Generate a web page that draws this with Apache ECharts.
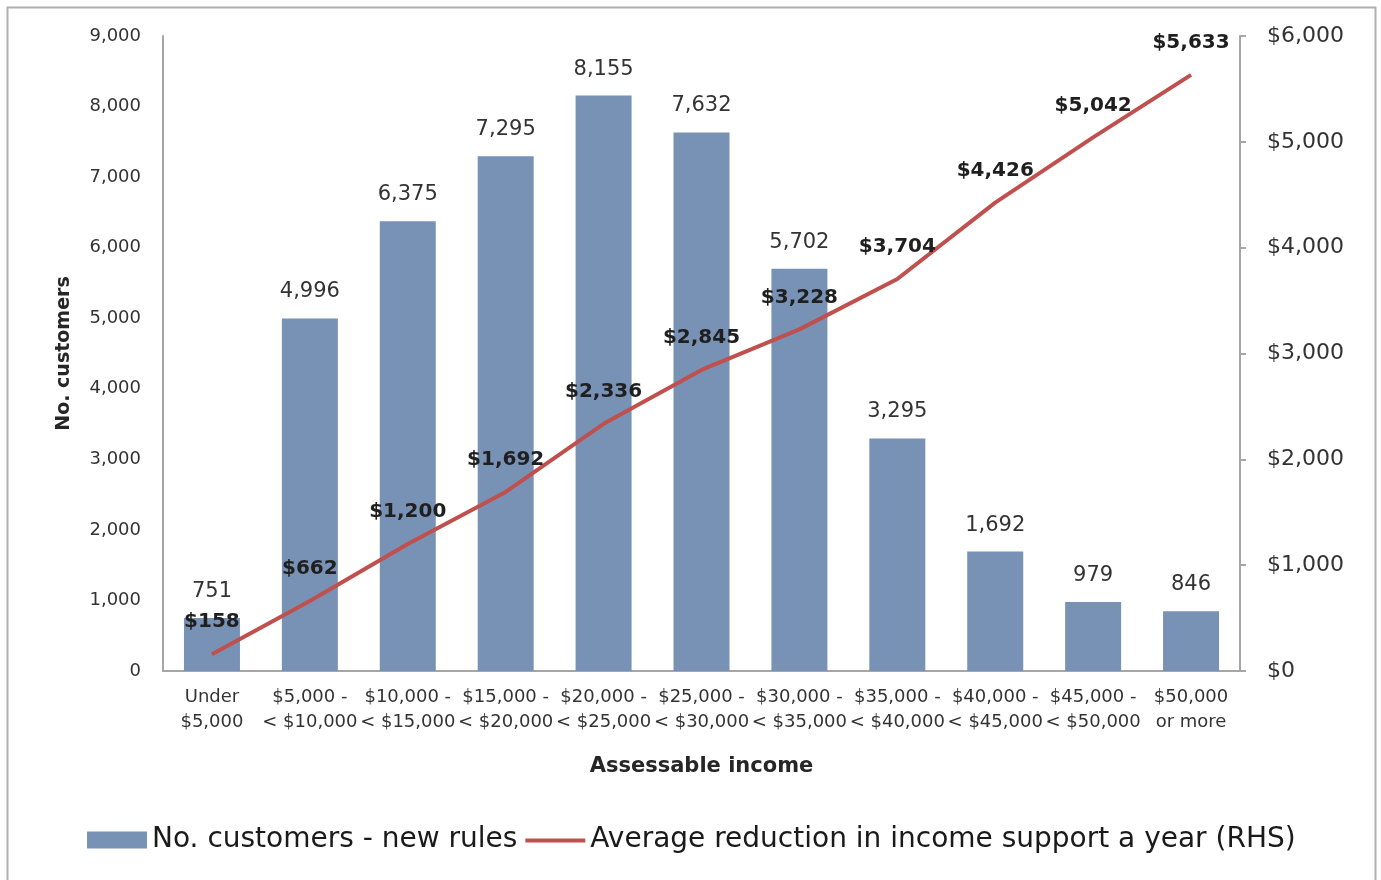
<!DOCTYPE html>
<html>
<head>
<meta charset="utf-8">
<script src="https://cdn.jsdelivr.net/npm/echarts@6/dist/echarts.min.js"></script>
<style>
  html, body { margin: 0; padding: 0; background: #fff; }
  #chart { width: 1381px; height: 880px; }
</style>
</head>
<body>
<div id="chart"></div>
<script>
// Income bands
const categories = [
  'Under\n$5,000',
  '$5,000 -\n< $10,000',
  '$10,000 -\n< $15,000',
  '$15,000 -\n< $20,000',
  '$20,000 -\n< $25,000',
  '$25,000 -\n< $30,000',
  '$30,000 -\n< $35,000',
  '$35,000 -\n< $40,000',
  '$40,000 -\n< $45,000',
  '$45,000 -\n< $50,000',
  '$50,000\nor more'
];
// Number of customers under the new rules (left axis)
const customers = [751, 4996, 6375, 7295, 8155, 7632, 5702, 3295, 1692, 979, 846];
// Average yearly reduction in income support, dollars (right axis)
const reduction = [158, 662, 1200, 1692, 2336, 2845, 3228, 3704, 4426, 5042, 5633];

const barName = 'No. customers - new rules';
const lineName = 'Average reduction in income support a year (RHS)';

const fmtNum = v => Number(v).toLocaleString('en-US');
const fmtDollar = v => '$' + Number(v).toLocaleString('en-US');

// Legend key for the line: a thin bar centred in the icon box (the hair-thin
// strips at the top and bottom only pin the box height so it is not stretched)
const lineKey = 'path://M0,0L60,0L60,0.01L0,0.01Z M0,7L60,7L60,11L0,11Z M0,17L60,17L60,17.01L0,17.01Z';

const chart = echarts.init(document.getElementById('chart'), null, { renderer: 'canvas' });

chart.setOption({
  backgroundColor: '#ffffff',
  animation: false,
  textStyle: { fontFamily: 'DejaVu Sans' },
  graphic: [{
    type: 'rect',
    silent: true,
    shape: { x: 7.5, y: 7.5, width: 1368, height: 890 },
    style: { fill: 'none', stroke: '#b0b0b0', lineWidth: 2 }
  }],
  grid: { left: 163, right: 141, top: 36, bottom: 209 },
  legend: {
    left: 82,
    top: 821,
    itemWidth: 60,
    itemHeight: 17,
    itemGap: 8,
    textStyle: { fontFamily: 'DejaVu Sans', fontSize: 28, color: '#1a1a1a' },
    data: [
      { name: barName, icon: 'rect' },
      { name: lineName, icon: lineKey }
    ]
  },
  xAxis: {
    type: 'category',
    data: categories,
    name: 'Assessable income',
    nameLocation: 'middle',
    nameGap: 85,
    nameTextStyle: { fontWeight: 'bold', fontSize: 21, color: '#262626' },
    axisLine: { lineStyle: { color: '#a6a6a6', width: 2 } },
    axisTick: { show: false },
    axisLabel: {
      interval: 0,
      fontSize: 18,
      lineHeight: 25,
      margin: 14,
      color: '#333333'
    }
  },
  yAxis: [
    {
      type: 'value',
      min: 0,
      max: 9000,
      interval: 1000,
      name: 'No. customers',
      nameLocation: 'middle',
      nameGap: 89,
      nameTextStyle: { fontWeight: 'bold', fontSize: 19, color: '#262626' },
      axisLine: { show: true, lineStyle: { color: '#a6a6a6', width: 2 } },
      axisTick: { show: false },
      splitLine: { show: false },
      axisLabel: { formatter: fmtNum, fontSize: 18, margin: 22, color: '#333333' }
    },
    {
      type: 'value',
      min: 0,
      max: 6000,
      interval: 1000,
      position: 'right',
      axisLine: { show: true, lineStyle: { color: '#a6a6a6', width: 2 } },
      axisTick: { show: true, length: 6, lineStyle: { color: '#a6a6a6', width: 2 } },
      splitLine: { show: false },
      axisLabel: { formatter: fmtDollar, fontSize: 22, margin: 27, color: '#333333' }
    }
  ],
  series: [
    {
      name: barName,
      type: 'bar',
      yAxisIndex: 0,
      data: customers,
      barWidth: 56,
      itemStyle: { color: '#7892b6' },
      label: {
        show: true,
        position: 'top',
        distance: 16,
        fontSize: 21,
        color: '#333333',
        formatter: p => fmtNum(p.value)
      },
      z: 2
    },
    {
      name: lineName,
      type: 'line',
      yAxisIndex: 1,
      data: reduction,
      symbol: 'circle',
      symbolSize: 0,
      showSymbol: true,
      lineStyle: { color: '#c0504d', width: 4 },
      itemStyle: { color: '#c0504d' },
      label: {
        show: true,
        position: 'top',
        distance: 22,
        fontSize: 20,
        fontWeight: 'bold',
        color: '#1f1f1f',
        formatter: p => fmtDollar(p.value)
      },
      z: 3
    }
  ]
});
</script>
</body>
</html>
